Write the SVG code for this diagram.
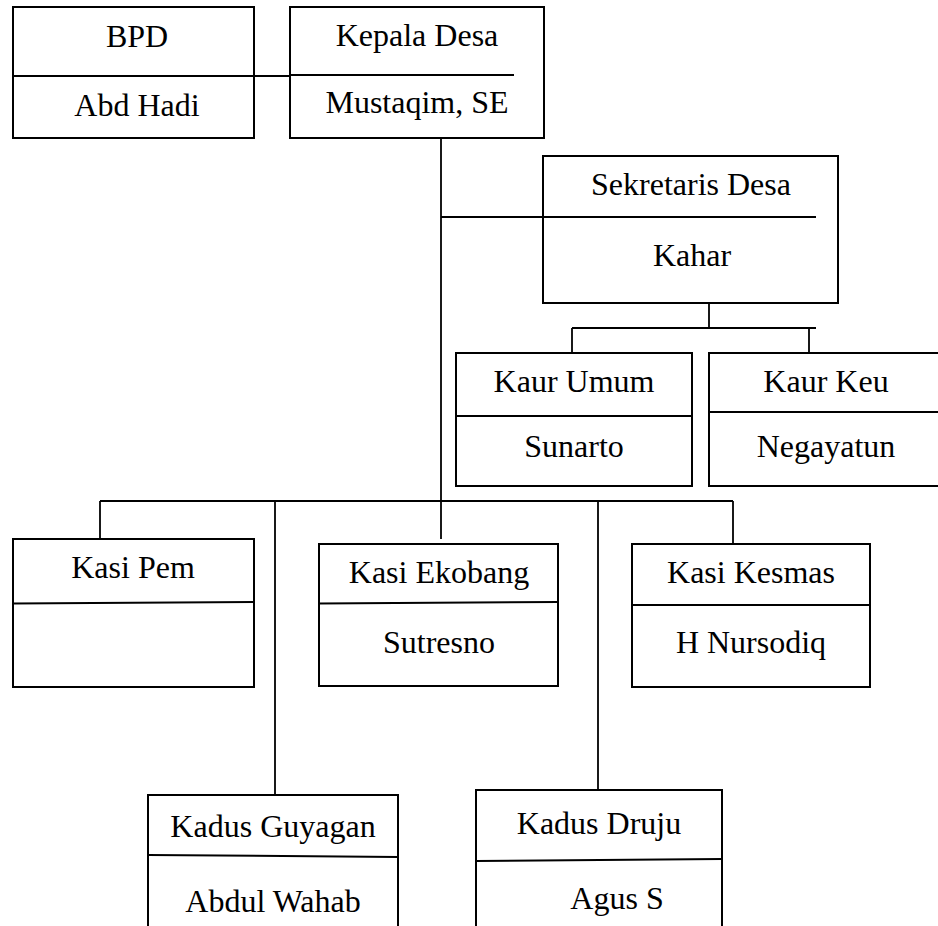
<svg xmlns="http://www.w3.org/2000/svg" width="938" height="926" viewBox="0 0 938 926">
<style>
.box{fill:none;stroke:#000;stroke-width:2}
.div{stroke:#000;stroke-width:2}
.con{fill:none;stroke:#000;stroke-width:1.8}
</style>
<rect width="938" height="926" fill="#fff"/>
<g id="connectors">
<line class="con" x1="254" y1="76" x2="290" y2="76"/>
<line class="con" x1="441" y1="138" x2="441" y2="539"/>
<line class="con" x1="441" y1="217" x2="543" y2="217"/>
<line class="con" x1="709" y1="303" x2="709" y2="328"/>
<line class="con" x1="572" y1="328" x2="816" y2="328"/>
<line class="con" x1="572" y1="328" x2="572" y2="353"/>
<line class="con" x1="809" y1="328" x2="809" y2="353"/>
<line class="con" x1="100" y1="501" x2="733" y2="501"/>
<line class="con" x1="100" y1="501" x2="100" y2="539"/>
<line class="con" x1="275" y1="501" x2="275" y2="795"/>
<line class="con" x1="598" y1="501" x2="598" y2="790"/>
<line class="con" x1="733" y1="501" x2="733" y2="544"/>
</g>
<g font-family="Liberation Serif" font-size="32" fill="#000" text-anchor="middle">
<g id="bpd">
<rect class="box" x="13" y="7" width="241" height="131"/>
<line class="div" x1="13" y1="76" x2="254" y2="76"/>
<text x="137" y="47" font-family="Liberation Serif">BPD</text>
<text x="137" y="116" font-family="Liberation Serif">Abd Hadi</text>
</g>
<g id="kepala-desa">
<rect class="box" x="290" y="7" width="254" height="131"/>
<line class="div" x1="290" y1="75" x2="514" y2="75"/>
<text x="417" y="46" font-family="Liberation Serif">Kepala Desa</text>
<text x="417" y="113" font-family="Liberation Serif">Mustaqim, SE</text>
</g>
<g id="sekretaris-desa">
<rect class="box" x="543" y="156" width="295" height="147"/>
<line class="div" x1="543" y1="217" x2="816" y2="217"/>
<text x="691" y="195" font-family="Liberation Serif">Sekretaris Desa</text>
<text x="692" y="266" font-family="Liberation Serif">Kahar</text>
</g>
<g id="kaur-umum">
<rect class="box" x="456" y="353" width="236" height="133"/>
<line class="div" x1="456" y1="416" x2="692" y2="416"/>
<text x="574" y="392" font-family="Liberation Serif">Kaur Umum</text>
<text x="574" y="457" font-family="Liberation Serif">Sunarto</text>
</g>
<g id="kaur-keu">
<path class="box" d="M940 353 H709 V486 H940"/>
<line class="div" x1="709" y1="412" x2="940" y2="412"/>
<text x="826" y="392" font-family="Liberation Serif">Kaur Keu</text>
<text x="826" y="457" font-family="Liberation Serif">Negayatun</text>
</g>
<g id="kasi-pem">
<rect class="box" x="13" y="539" width="241" height="148"/>
<line class="div" x1="13" y1="603.5" x2="254" y2="602"/>
<text x="133" y="578" font-family="Liberation Serif">Kasi Pem</text>
</g>
<g id="kasi-ekobang">
<rect class="box" x="319" y="544" width="239" height="142"/>
<line class="div" x1="319" y1="603.5" x2="558" y2="602"/>
<text x="439" y="583" font-family="Liberation Serif">Kasi Ekobang</text>
<text x="439" y="653" font-family="Liberation Serif">Sutresno</text>
</g>
<g id="kasi-kesmas">
<rect class="box" x="632" y="544" width="238" height="143"/>
<line class="div" x1="632" y1="605" x2="870" y2="605"/>
<text x="751" y="583" font-family="Liberation Serif">Kasi Kesmas</text>
<text x="751" y="653" font-family="Liberation Serif">H Nursodiq</text>
</g>
<g id="kadus-guyagan">
<path class="box" d="M148 930 V795 H398 V930"/>
<line class="div" x1="148" y1="855" x2="398" y2="857"/>
<text x="273" y="837" font-family="Liberation Serif">Kadus Guyagan</text>
<text x="273" y="912" font-family="Liberation Serif">Abdul Wahab</text>
</g>
<g id="kadus-druju">
<path class="box" d="M476 930 V790 H722 V930"/>
<line class="div" x1="476" y1="861" x2="722" y2="859"/>
<text x="599" y="834" font-family="Liberation Serif">Kadus Druju</text>
<text x="617" y="909" font-family="Liberation Serif">Agus S</text>
</g>
</g>
</svg>
